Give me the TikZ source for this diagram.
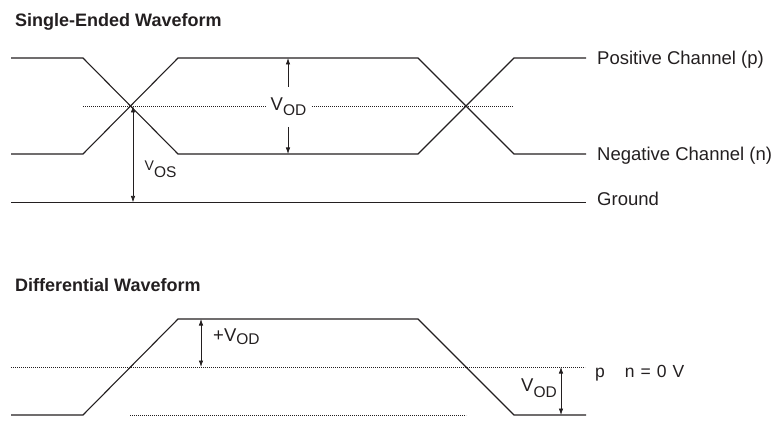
\documentclass[tikz,border=0pt]{standalone}
\usepackage{fontspec}
\setmainfont{Liberation Sans}
\usetikzlibrary{arrows.meta}
\definecolor{ink}{HTML}{231F20}
\newcommand{\sbs}[2][4.7pt]{\raisebox{-#1}{\fontsize{15.5}{18}\selectfont #2}}
\begin{document}
\begin{tikzpicture}[x=1pt,y=-1pt,
  wave/.style={line width=1.1pt, draw=ink, line join=miter},
  dimarrow/.style={line width=0.7pt, draw=ink},
  onetip/.style={-{Latex[length=6.5pt,width=4.5pt]}},
  twotips/.style={{Latex[length=6.5pt,width=4.5pt]}-{Latex[length=6.5pt,width=4.5pt]}},
  refline/.style={line width=0.7pt, draw=ink, dash pattern=on 0.8pt off 1.2pt},
  lbl/.style={inner sep=0pt, text=ink, font=\fontsize{18.5}{22}\selectfont},
  ttl/.style={inner sep=0pt, anchor=base west, text=ink, font=\bfseries\fontsize{18}{21}\selectfont}]
\useasboundingbox (0,0) rectangle (774,433);

% ---------- Single-ended ----------
\node[ttl] (t1) at (15,26.7) {Single-Ended Waveform};

\coordinate (p0) at (11,58);
\coordinate (p1) at (83,58);
\coordinate (p2) at (178,154);
\coordinate (p3) at (418,154);
\coordinate (p4) at (514,58);
\coordinate (p5) at (586,58);

\coordinate (n0) at (11,154);
\coordinate (n1) at (83,154);
\coordinate (n2) at (178,58);
\coordinate (n3) at (418,58);
\coordinate (n4) at (514,154);
\coordinate (n5) at (586,154);

\coordinate (g0) at (11,202.4);
\coordinate (g1) at (586,202.4);

\draw[wave] (p0) -- (p1) -- (p2) -- (p3) -- (p4) -- (p5);
\draw[wave] (n0) -- (n1) -- (n2) -- (n3) -- (n4) -- (n5);
\draw[wave] (g0) -- (g1);

\node[lbl, anchor=base west] (lp) at (597,65) {Positive Channel (p)};
\node[lbl, anchor=base west] (ln) at (597,160.5) {Negative Channel (n)};
\node[lbl, anchor=base west] (lg) at (597,205) {Ground};

\node[lbl, anchor=base west] (vod) at (270.5,111) {V\sbs{OD}};
\coordinate (d0) at (83,106);
\coordinate (d1) at (513,106);
\coordinate (d2) at (266.5,106);
\coordinate (d3) at (312,106);
\draw[refline] (d0) -- (d2);
\draw[refline] (d3) -- (d1);

\coordinate (va) at (288,58);
\coordinate (vb) at (288,154);
\coordinate (vc) at (288,87);
\coordinate (vd) at (288,127);
\draw[dimarrow, onetip] (vc) -- (va);
\draw[dimarrow, onetip] (vd) -- (vb);

\coordinate (osa) at (133,106);
\coordinate (osb) at (133,202.4);
\draw[dimarrow, twotips] (osa) -- (osb);
\node[lbl, anchor=base west] (vos) at (144.5,171) {{\fontsize{14}{16}\selectfont V}\raisebox{-6.5pt}{\fontsize{15.5}{18}\selectfont OS}};

% ---------- Differential ----------
\node[ttl] (t2) at (15,291) {Differential Waveform};

\coordinate (w0) at (11,415);
\coordinate (w1) at (83,415);
\coordinate (w2) at (178,319);
\coordinate (w3) at (418,319);
\coordinate (w4) at (514,415);
\coordinate (w5) at (586,415);
\draw[wave] (w0) -- (w1) -- (w2) -- (w3) -- (w4) -- (w5);

\coordinate (z0) at (11,367);
\coordinate (z1) at (585,367);
\draw[refline] (z0) -- (z1);
\node[inner sep=0pt, text=ink, font=\fontsize{17.5}{21}\selectfont, anchor=base west] (zl) at (595,377.5)
  {p\hspace{20pt}n\hspace{6pt}=\hspace{6pt}0\hspace{6pt}V};

\coordinate (q0) at (130,415);
\coordinate (q1) at (466,415);
\draw[refline] (q0) -- (q1);

\coordinate (pa) at (201,319);
\coordinate (pb) at (201,367);
\draw[dimarrow, twotips] (pa) -- (pb);
\node[lbl, anchor=base west] (pvod) at (213,341) {+V\sbs[3.5pt]{OD}};

\coordinate (ma) at (561,367);
\coordinate (mb) at (561,415);
\draw[dimarrow, twotips] (ma) -- (mb);
\node[lbl, anchor=base east] (mvod) at (557,391.5) {V\sbs[5.5pt]{OD}};
\end{tikzpicture}
\end{document}
